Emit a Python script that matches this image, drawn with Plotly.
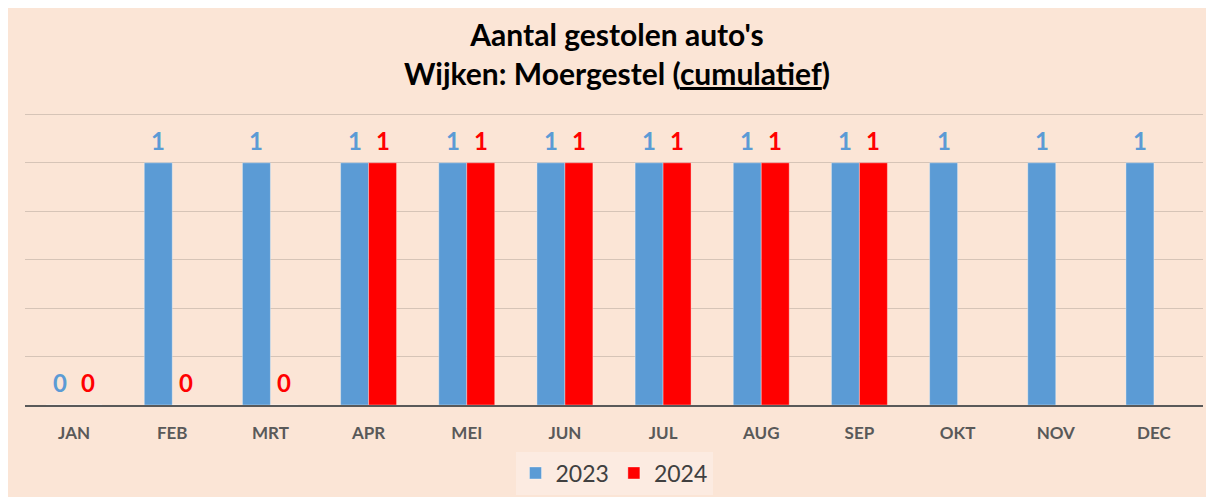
import plotly.graph_objects as go

months = ["JAN", "FEB", "MRT", "APR", "MEI", "JUN", "JUL", "AUG", "SEP", "OKT", "NOV", "DEC"]
values_2023 = [0, 1, 1, 1, 1, 1, 1, 1, 1, 1, 1, 1]
values_2024 = [0, 0, 0, 1, 1, 1, 1, 1, 1, None, None, None]
series_names = ["2023", "2024"]

BLUE = "#5B9BD5"
RED = "#FF0000"
BG = "#FBE5D6"
FONT = "Lato"

W, H = 1206, 489
ML, MR, MT, MB = 17, 11, 104, 92
PH = H - MT - MB
BAR_HALF = 14  # px offset from group center to bar center

fig = go.Figure()
fig.add_trace(go.Bar(x=months, y=values_2023, name=series_names[0],
                     marker=dict(color=BLUE, line=dict(color="rgba(255,255,255,0.35)", width=1))))
fig.add_trace(go.Bar(x=months, y=values_2024, name=series_names[1],
                     marker=dict(color=RED, line=dict(color="rgba(255,255,255,0.35)", width=1))))

annotations = []
for vals, color, shift in [(values_2023, BLUE, -BAR_HALF), (values_2024, RED, BAR_HALF)]:
    for m, v in zip(months, vals):
        if v is None:
            continue
        annotations.append(dict(x=m, y=v, xref="x", yref="y", text=f"<b>{v}</b>",
                                showarrow=False, xshift=shift, yshift=6, yanchor="bottom",
                                font=dict(family=FONT, size=24, color=color)))

fig.update_layout(
    width=W, height=H,
    margin=dict(l=ML, r=MR, t=MT, b=MB, autoexpand=False),
    paper_bgcolor=BG, plot_bgcolor=BG,
    barmode="group", bargap=0.43, bargroupgap=0,
    title=dict(text="<b>Aantal gestolen auto's<br>Wijken: Moergestel (<u>cumulatief</u>)</b>",
               x=0.505, xanchor="center", y=1 - 38 / H, yanchor="middle",
               font=dict(family=FONT, size=30, color="black")),
    font=dict(family=FONT),
    legend=dict(orientation="h", x=0.5, xanchor="center", y=-68 / PH, yanchor="middle",
                bgcolor="#FCEBE1", font=dict(family=FONT, size=23, color="#404040"),
                itemwidth=30, traceorder="normal"),
    annotations=annotations,
)
fig.update_xaxes(showline=True, linecolor="#595959", linewidth=2, showgrid=False,
                 ticks="outside", ticklen=12, tickcolor="rgba(0,0,0,0)",
                 tickfont=dict(family=FONT, size=17, color="#595959", weight="bold"))
fig.update_yaxes(range=[0, 1.21], tick0=0, dtick=0.2, showticklabels=False, showgrid=True,
                 gridcolor="#D6C4B7", gridwidth=1, zeroline=False)

fig.write_html("out.html")
